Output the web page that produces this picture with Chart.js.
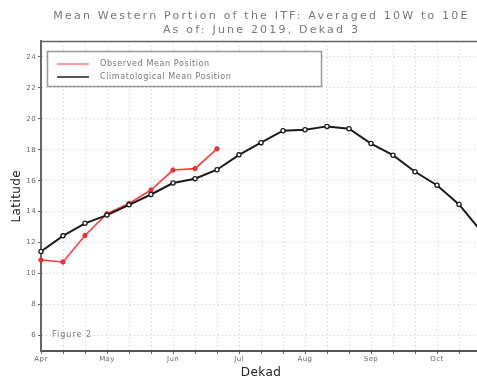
<!DOCTYPE html>
<html><head><meta charset="utf-8">
<script src="https://cdn.jsdelivr.net/npm/chart.js@4/dist/chart.umd.min.js"></script>
<style>
html,body{margin:0;padding:0;background:#fff;overflow:hidden}
#wrap{position:relative;width:477px;height:377px;overflow:hidden;background:#fff}
#box{position:absolute;left:0;top:0;width:520px;height:382px}
</style></head><body>
<div id="wrap"><div id="box"><canvas id="c" width="520" height="382"></canvas></div></div>
<script>
const titleLines = ['Mean Western Portion of the ITF: Averaged 10W to 10E', 'As of: June 2019, Dekad 3'];
const dekads = ['Apr 1','Apr 2','Apr 3','May 1','May 2','May 3','Jun 1','Jun 2','Jun 3','Jul 1','Jul 2','Jul 3','Aug 1','Aug 2','Aug 3','Sep 1','Sep 2','Sep 3','Oct 1','Oct 2','Oct 3'];
const monthLabels = ['Apr','May','Jun','Jul','Aug','Sep','Oct'];
const observed = [10.88,10.75,12.46,13.87,14.53,15.40,16.69,16.78,18.06];
const climatology = [11.43,12.44,13.25,13.78,14.44,15.11,15.85,16.13,16.71,17.67,18.46,19.23,19.29,19.51,19.36,18.40,17.65,16.58,15.71,14.47,12.75];
const yTicks = [6,8,10,12,14,16,18,20,22,24];
const seriesNames = ['Observed Mean Position','Climatological Mean Position'];
const figureLabel = 'Figure 2';

const toPts = arr => arr.map((v,i)=>({x:i,y:v}));

const decor = {
  id:'decor',
  beforeDraw(chart){
    chart.ctx.letterSpacing = '0.4px';
    const tb = chart.titleBlock;
    if (tb && !tb._spaced){
      const orig = tb.draw.bind(tb);
      tb.draw = function(){
        const c = chart.ctx; c.save(); c.letterSpacing = '2.2px'; c.translate(21,0); orig(); c.restore();
      };
      tb._spaced = true;
    }
  },
  beforeDatasetsDraw(chart){
    const {ctx, chartArea:a} = chart;
    ctx.save();
    ctx.strokeStyle = '#666'; ctx.lineWidth = 1.5;
    ctx.beginPath(); ctx.moveTo(a.left, a.top); ctx.lineTo(a.right, a.top); ctx.lineTo(a.right, a.bottom); ctx.stroke();
    ctx.restore();
  },
  afterDatasetsDraw(chart){
    const ctx = chart.ctx;
    ctx.save();
    ctx.letterSpacing = '0.6px';
    ctx.fillStyle = '#fff';
    ctx.fillRect(47.5,51.5,274,35);
    ctx.strokeStyle = '#999'; ctx.lineWidth = 1.5;
    ctx.strokeRect(47.5,51.5,274,35);
    const cols = ['#ff9a9a','#555'];
    const ys = [64,77];
    ctx.font = '8px "DejaVu Sans"';
    ctx.textBaseline = 'middle';
    ctx.textAlign = 'left';
    for (let i=0;i<2;i++){
      ctx.strokeStyle = cols[i]; ctx.lineWidth = 2;
      ctx.beginPath(); ctx.moveTo(57,ys[i]); ctx.lineTo(89,ys[i]); ctx.stroke();
      ctx.fillStyle = '#777';
      ctx.fillText(seriesNames[i], 100, ys[i]);
    }
    ctx.letterSpacing = '1px';
    ctx.fillText(figureLabel, 52, 335);
    ctx.restore();
  }
};

new Chart(document.getElementById('c'), {
  type:'line',
  data:{
    datasets:[
      {label:seriesNames[1], data:toPts(climatology), borderColor:'#1a1a1a', borderWidth:2,
       pointRadius:2.1, pointBackgroundColor:'#fff', pointBorderColor:'#1a1a1a', pointBorderWidth:1.3, tension:0, clip:false},
      {label:seriesNames[0], data:toPts(observed), borderColor:'#ff3b3b', borderWidth:1.6,
       pointRadius:2.2, pointBackgroundColor:'#ee3030', pointBorderColor:'#ee3030', pointBorderWidth:1, tension:0, clip:false}
    ]
  },
  options:{
    responsive:false, animation:false, devicePixelRatio:1,
    layout:{padding:{left:0,right:39,top:0,bottom:0}},
    plugins:{
      legend:{display:false}, tooltip:{enabled:false},
      title:{display:true, text:titleLines, color:'#777', font:{family:'DejaVu Sans', size:11, weight:'normal', lineHeight:1.2}, padding:{top:10,bottom:5}}
    },
    scales:{
      x:{type:'linear', min:0, max:20,
        afterBuildTicks(s){ s.ticks = dekads.map((d,i)=>({value:i})); },
        afterFit(s){ s.height = 31; },
        ticks:{autoSkip:false, maxRotation:0, color:'#666', font:{family:'DejaVu Sans', size:7}, padding:1,
          callback:(v)=> (v%3===0 ? monthLabels[v/3] : '')},
        grid:{color:'#c4c4c4', lineWidth:1, tickLength:3, tickColor:'#666', tickBorderDash:[]},
        border:{color:'#555', width:2, dash:[1,3]},
        title:{display:true, text:'Dekad', color:'#222', font:{family:'DejaVu Sans', size:12}, padding:{top:0,bottom:2}}
      },
      y:{min:5, max:25,
        afterBuildTicks(s){ s.ticks = yTicks.map(v=>({value:v})); },
        afterFit(s){ s.width = 41; },
        ticks:{color:'#666', font:{family:'DejaVu Sans', size:7}, padding:2},
        grid:{color:'#c4c4c4', lineWidth:1, tickLength:3, tickColor:'#666', tickBorderDash:[]},
        border:{color:'#666', width:2, dash:[1,3]},
        title:{display:true, text:'Latitude', color:'#222', font:{family:'DejaVu Sans', size:12}, padding:{top:10,bottom:0}}
      }
    }
  },
  plugins:[decor]
});
</script>
</body></html>
